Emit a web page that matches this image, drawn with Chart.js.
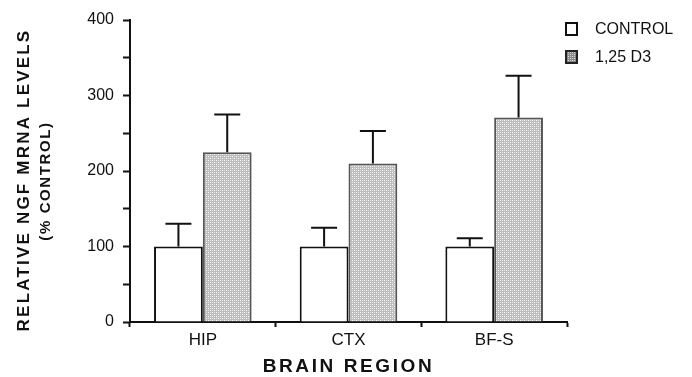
<!DOCTYPE html>
<html>
<head>
<meta charset="utf-8">
<script src="https://cdn.jsdelivr.net/npm/chart.js@4/dist/chart.umd.min.js"></script>
<style>
  html, body { margin: 0; padding: 0; background: #ffffff; }
  #wrap { width: 692px; height: 377px; }
</style>
</head>
<body>
<div id="wrap"><canvas id="c" width="692" height="377"></canvas></div>
<script>
// ---- data ----
const categories = ['HIP', 'CTX', 'BF-S'];
const controlValues = [100, 100, 100];
const controlErrors = [30, 25, 11];
const d3Values = [225, 210, 271];
const d3Errors = [50, 43, 55];
const seriesLabels = ['CONTROL', '1,25 D3'];
const yTickMax = 400;
const yTickStep = 50;
const yTitleLines = ['RELATIVE NGF MRNA LEVELS', '(% CONTROL)'];
const xTitle = 'BRAIN REGION';

// ---- stipple pattern for the treated bars ----
function makePattern(bg, dot) {
  const p = document.createElement('canvas');
  p.width = 4; p.height = 4;
  const g = p.getContext('2d');
  g.fillStyle = bg; g.fillRect(0, 0, 4, 4);
  g.fillStyle = dot;
  g.fillRect(0, 0, 1, 1);
  g.fillRect(2, 2, 1, 1);
  g.fillStyle = 'rgba(255,255,255,0.5)';
  g.fillRect(2, 0, 1, 1);
  g.fillRect(0, 2, 1, 1);
  return g.createPattern(p, 'repeat');
}
const ctx = document.getElementById('c').getContext('2d');
const stipple = makePattern('#bdbdbd', '#ffffff');
const stippleDark = makePattern('#8a8a8a', '#e0e0e0');

Chart.defaults.font.family = "'Liberation Sans', Arial, Helvetica, sans-serif";
Chart.defaults.color = '#111';

const errorBars = {
  id: 'errorBars',
  afterDatasetsDraw(chart) {
    const c = chart.ctx;
    const y = chart.scales.y;
    const errs = [controlErrors, d3Errors];
    const vals = [controlValues, d3Values];
    c.save();
    c.strokeStyle = '#111';
    c.lineWidth = 2;
    chart.data.datasets.forEach((ds, di) => {
      const meta = chart.getDatasetMeta(di);
      meta.data.forEach((bar, i) => {
        const top = y.getPixelForValue(vals[di][i]);
        const hi = y.getPixelForValue(vals[di][i] + errs[di][i]);
        c.beginPath();
        c.moveTo(bar.x, top);
        c.lineTo(bar.x, hi);
        c.moveTo(bar.x - 13, hi);
        c.lineTo(bar.x + 13, hi);
        c.stroke();
      });
    });
    c.restore();
  }
};

const titlesAndLegend = {
  id: 'titlesAndLegend',
  afterDraw(chart) {
    const c = chart.ctx;
    const area = chart.chartArea;
    c.save();
    c.fillStyle = '#111';
    c.textAlign = 'center';
    c.textBaseline = 'middle';
    // y title (rotated, two lines)
    c.save();
    c.translate(24, 180);
    c.rotate(-Math.PI / 2);
    c.font = "bold 17px 'Liberation Sans', Arial, sans-serif";
    c.letterSpacing = '2.2px';
    c.fillText(yTitleLines[0], 0, 0);
    c.restore();
    c.save();
    c.translate(46, 181);
    c.rotate(-Math.PI / 2);
    c.font = "bold 15px 'Liberation Sans', Arial, sans-serif";
    c.letterSpacing = '1.6px';
    c.fillText(yTitleLines[1], 0, 0);
    c.restore();
    // x title
    c.save();
    c.font = "bold 19px 'Liberation Sans', Arial, sans-serif";
    c.letterSpacing = '2.6px';
    c.fillText(xTitle, (area.left + area.right) / 2, 367);
    c.restore();
    // legend
    const items = [
      { label: chart.data.datasets[0].label, fill: '#ffffff', stroke: '#111', y: 29 },
      { label: chart.data.datasets[1].label, fill: stippleDark, stroke: '#222', y: 57 }
    ];
    items.forEach(it => {
      c.fillStyle = it.fill;
      c.fillRect(566, it.y - 6, 11, 12);
      c.strokeStyle = it.stroke;
      c.lineWidth = 2;
      c.strokeRect(566, it.y - 6, 11, 12);
      c.fillStyle = '#111';
      c.textAlign = 'left';
      c.font = "16px 'Liberation Sans', Arial, sans-serif";
      c.letterSpacing = '0px';
      c.fillText(it.label, 595, it.y + 1);
    });
    c.restore();
  }
};

new Chart(ctx, {
  type: 'bar',
  data: {
    labels: categories,
    datasets: [
      {
        label: seriesLabels[0],
        data: controlValues,
        backgroundColor: '#ffffff',
        borderColor: '#111111',
        borderWidth: 2,
        borderSkipped: 'bottom'
      },
      {
        label: seriesLabels[1],
        data: d3Values,
        backgroundColor: stipple,
        borderColor: '#555555',
        borderWidth: 2,
        borderSkipped: 'bottom'
      }
    ]
  },
  options: {
    responsive: false,
    animation: false,
    events: [],
    layout: { padding: { left: 0, right: 125, top: 20, bottom: 0 } },
    datasets: { bar: { categoryPercentage: 0.67, barPercentage: 1.0 } },
    plugins: { legend: { display: false }, tooltip: { enabled: false } },
    scales: {
      x: {
        offset: true,
        grid: { offset: true, drawOnChartArea: false, tickLength: 5, tickWidth: 2, tickColor: '#111' },
        border: { color: '#111', width: 2 },
        ticks: { font: { size: 17 }, color: '#111', padding: 3 },
        afterFit(s) { s.height = 55; s.paddingLeft = 0; s.paddingRight = 0; }
      },
      y: {
        min: 0,
        max: yTickMax,
        grid: { drawOnChartArea: false, tickLength: 7, tickWidth: 2, tickColor: '#111' },
        border: { color: '#111', width: 2 },
        ticks: {
          stepSize: yTickStep,
          font: { size: 16 },
          color: '#111',
          padding: 9,
          callback: v => (v % 100 === 0 ? v : '')
        },
        afterFit(s) { s.width = 130; s.paddingTop = 0; s.paddingBottom = 0; }
      }
    }
  },
  plugins: [errorBars, titlesAndLegend]
});
</script>
</body>
</html>
